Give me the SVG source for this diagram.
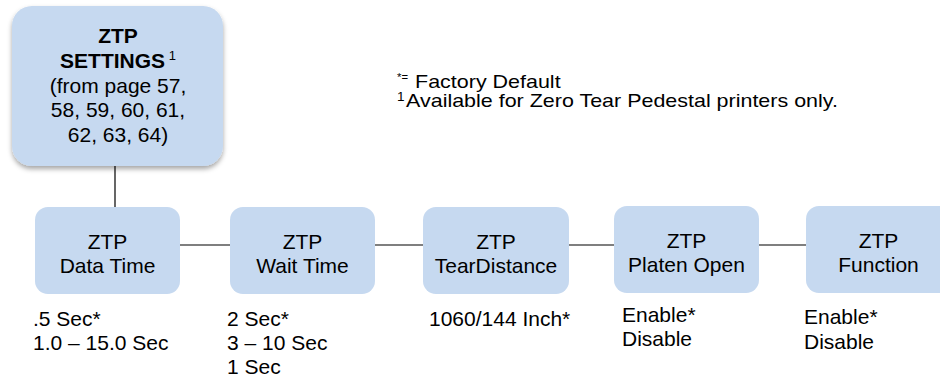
<svg xmlns="http://www.w3.org/2000/svg" width="940" height="379" viewBox="0 0 940 379">
<defs>
<style>
.box{fill:#c6d9f0;}
.t{font-family:"Liberation Sans",Arial,sans-serif;font-size:21px;fill:#000;}
.c{text-anchor:middle;}
.b{font-weight:bold;}
.v{font-family:"Liberation Sans",Arial,sans-serif;font-size:21px;fill:#000;}
.l{font-family:"Liberation Sans",Arial,sans-serif;font-size:19px;fill:#000;}
.conn{stroke:#000;stroke-width:1.2;fill:none;}
</style>
<filter id="sh" x="-10%" y="-10%" width="120%" height="130%">
<feDropShadow dx="0" dy="3" stdDeviation="2.5" flood-color="#000" flood-opacity="0.35"/>
</filter>
</defs>
<rect width="940" height="379" fill="#fff"/>
<g id="connectors">
<line class="conn" x1="115" y1="166" x2="115" y2="207"/>
<line class="conn" x1="180" y1="245" x2="230" y2="245"/>
<line class="conn" x1="375" y1="245" x2="423" y2="245"/>
<line class="conn" x1="569" y1="245" x2="614" y2="245"/>
<line class="conn" x1="759" y1="245" x2="806" y2="245"/>
</g>
<g id="ztp-settings">
<rect class="box" x="12" y="6" width="211" height="160" rx="20" filter="url(#sh)"/>
<text class="t c b" x="118" y="43">ZTP</text>
<text class="t c" x="118" y="68"><tspan class="b">SETTINGS</tspan><tspan font-size="13" dy="-8"> 1</tspan></text>
<text class="t c" x="118" y="93">(from page 57,</text>
<text class="t c" x="118" y="117">58, 59, 60, 61,</text>
<text class="t c" x="118" y="142">62, 63, 64)</text>
</g>
<g id="data-time">
<rect class="box" x="35" y="207" width="145" height="87" rx="13"/>
<text class="t c" x="107.5" y="249">ZTP</text>
<text class="t c" x="107.5" y="273">Data Time</text>
<text class="v" x="33" y="326">.5 Sec*</text>
<text class="v" x="33" y="350">1.0 – 15.0 Sec</text>
</g>
<g id="wait-time">
<rect class="box" x="230" y="207" width="145" height="87" rx="13"/>
<text class="t c" x="302.5" y="249">ZTP</text>
<text class="t c" x="302.5" y="273">Wait Time</text>
<text class="v" x="227" y="326">2 Sec*</text>
<text class="v" x="227" y="350">3 – 10 Sec</text>
<text class="v" x="227" y="374">1 Sec</text>
</g>
<g id="tear-distance">
<rect class="box" x="423" y="207" width="146" height="87" rx="13"/>
<text class="t c" x="496" y="249">ZTP</text>
<text class="t c" x="496" y="273">TearDistance</text>
<text class="v" x="429" y="326">1060/144 Inch*</text>
</g>
<g id="platen-open">
<rect class="box" x="614" y="206" width="145" height="87" rx="13"/>
<text class="t c" x="686.5" y="248">ZTP</text>
<text class="t c" x="686.5" y="272">Platen Open</text>
<text class="v" x="622" y="322">Enable*</text>
<text class="v" x="622" y="346">Disable</text>
</g>
<g id="function">
<rect class="box" x="806" y="206" width="146" height="87" rx="13"/>
<text class="t c" x="878.5" y="248">ZTP</text>
<text class="t c" x="878.5" y="272">Function</text>
<text class="v" x="804" y="324">Enable*</text>
<text class="v" x="804" y="349">Disable</text>
</g>
<g id="legend">
<text class="l" transform="translate(397,0) scale(1.13,1)"><tspan x="0" y="81" font-size="10">*=</tspan><tspan x="16" y="88">Factory Default</tspan><tspan x="0" y="101" font-size="12">1</tspan><tspan x="8" y="107">Available for Zero Tear Pedestal printers only.</tspan></text>
</g>
</svg>
